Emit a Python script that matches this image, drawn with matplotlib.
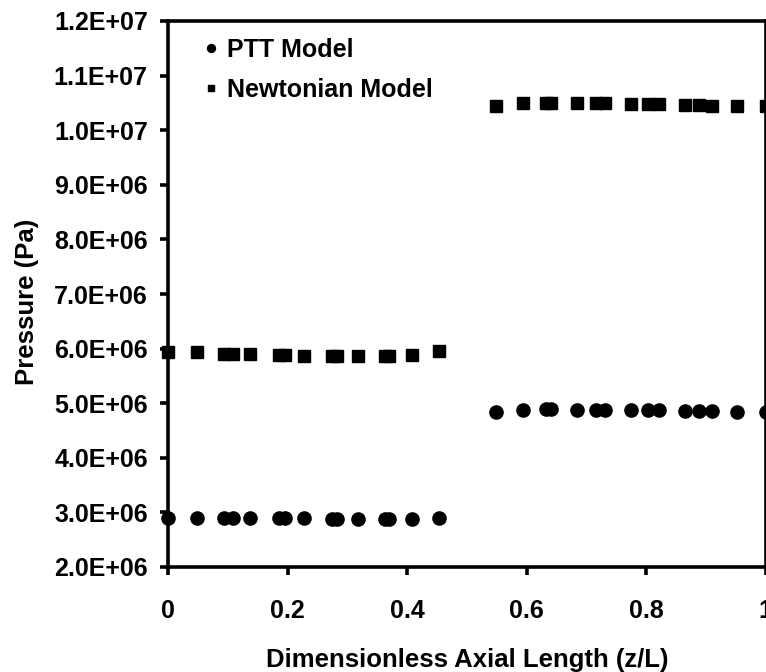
import matplotlib.pyplot as plt
from matplotlib.ticker import FuncFormatter, MultipleLocator

# 轴向位置 (z/L)：入口段与出口段
z_inlet = [0, 0.048, 0.094, 0.108, 0.138, 0.185, 0.195, 0.228, 0.274, 0.283,
           0.318, 0.364, 0.370, 0.408, 0.454]
z_outlet = [0.549, 0.594, 0.633, 0.641, 0.684, 0.717, 0.731, 0.775, 0.804, 0.821,
            0.866, 0.889, 0.911, 0.953, 1.0]

# 压力 (Pa)
ptt_inlet = [2.90e6, 2.90e6, 2.90e6, 2.90e6, 2.90e6, 2.89e6, 2.89e6, 2.89e6, 2.88e6, 2.88e6,
             2.88e6, 2.87e6, 2.87e6, 2.88e6, 2.90e6]
ptt_outlet = [4.84e6, 4.87e6, 4.89e6, 4.89e6, 4.88e6, 4.88e6, 4.88e6, 4.88e6, 4.87e6, 4.87e6,
              4.86e6, 4.85e6, 4.85e6, 4.84e6, 4.84e6]
newt_inlet = [5.93e6, 5.93e6, 5.91e6, 5.91e6, 5.90e6, 5.88e6, 5.88e6, 5.87e6, 5.87e6, 5.87e6,
              5.86e6, 5.86e6, 5.86e6, 5.88e6, 5.95e6]
newt_outlet = [10.44e6, 10.49e6, 10.50e6, 10.50e6, 10.50e6, 10.49e6, 10.49e6, 10.48e6, 10.48e6, 10.48e6,
               10.46e6, 10.46e6, 10.45e6, 10.45e6, 10.45e6]

plt.rcParams['font.family'] = ['Liberation Sans', 'DejaVu Sans']
plt.rcParams['font.weight'] = 'bold'

fig = plt.figure(figsize=(7.66, 6.72), dpi=100)
ax = fig.add_axes([168 / 766, 105 / 672, 597.5 / 766, 546 / 672])

z_all = z_inlet + z_outlet
ax.plot(z_all, ptt_inlet + ptt_outlet, 'o', color='black', markersize=9.5,
        clip_on=False, label='PTT Model')
ax.plot(z_all, newt_inlet + newt_outlet, 's', color='black', markersize=8,
        clip_on=False, label='Newtonian Model')

ax.set_xlim(0, 1)
ax.set_ylim(2.0e6, 1.2e7)
ax.xaxis.set_major_locator(MultipleLocator(0.2))
ax.yaxis.set_major_locator(MultipleLocator(1.0e6))
ax.xaxis.set_major_formatter(FuncFormatter(lambda v, p: '%g' % round(v, 1)))
ax.yaxis.set_major_formatter(FuncFormatter(lambda v, p: ('%.1E' % v)))

for s in ax.spines.values():
    s.set_linewidth(2.6)
ax.tick_params(axis='both', direction='out', length=6, width=2.6, labelsize=18)
ax.tick_params(axis='x', pad=17)
ax.tick_params(axis='y', pad=8.5)

ax.set_xlabel('Dimensionless Axial Length (z/L)', fontsize=18.5, fontweight='bold', labelpad=18)
ax.set_ylabel('Pressure (Pa)', fontsize=18.5, fontweight='bold')
ax.yaxis.set_label_coords(-0.216, 0.485)

leg = ax.legend(loc='upper left', frameon=False, fontsize=18, markerscale=0.6,
                handlelength=0.6, handletextpad=0.35, labelspacing=0.65,
                borderaxespad=0, borderpad=0.4, bbox_to_anchor=(0.042, 0.988))

fig.savefig('out.png', dpi=100)
